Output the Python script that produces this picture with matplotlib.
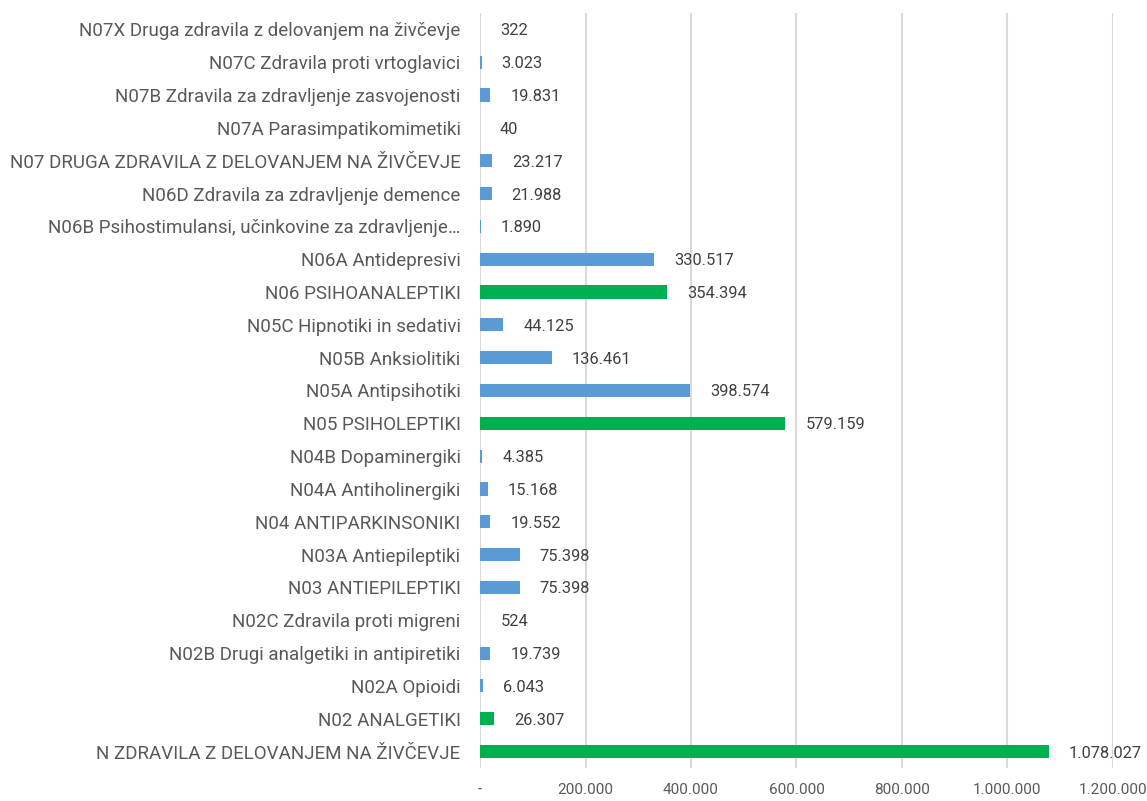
import matplotlib
matplotlib.use("Agg")
import matplotlib.pyplot as plt
from matplotlib.ticker import FuncFormatter

categories = [
    "N ZDRAVILA Z DELOVANJEM NA ŽIVČEVJE",
    "N02 ANALGETIKI",
    "N02A Opioidi",
    "N02B Drugi analgetiki in antipiretiki",
    "N02C Zdravila proti migreni",
    "N03 ANTIEPILEPTIKI",
    "N03A Antiepileptiki",
    "N04 ANTIPARKINSONIKI",
    "N04A Antiholinergiki",
    "N04B Dopaminergiki",
    "N05 PSIHOLEPTIKI",
    "N05A Antipsihotiki",
    "N05B Anksiolitiki",
    "N05C Hipnotiki in sedativi",
    "N06 PSIHOANALEPTIKI",
    "N06A Antidepresivi",
    "N06B Psihostimulansi, učinkovine za zdravljenje…",
    "N06D Zdravila za zdravljenje demence",
    "N07 DRUGA ZDRAVILA Z DELOVANJEM NA ŽIVČEVJE",
    "N07A Parasimpatikomimetiki",
    "N07B Zdravila za zdravljenje zasvojenosti",
    "N07C Zdravila proti vrtoglavici",
    "N07X Druga zdravila z delovanjem na živčevje",
]
values = [1078027, 26307, 6043, 19739, 524, 75398, 75398, 19552, 15168, 4385,
          579159, 398574, 136461, 44125, 354394, 330517, 1890, 21988, 23217,
          40, 19831, 3023, 322]
highlight = [True, True, False, False, False, False, False, False, False, False,
             True, False, False, False, True, False, False, False, False,
             False, False, False, False]
xticks = [0, 200000, 400000, 600000, 800000, 1000000, 1200000]

BLUE = "#5B9BD5"
GREEN = "#00B050"

plt.rcParams['font.family'] = ['Roboto', 'DejaVu Sans']

def fmt(v):
    if v == 0:
        return "-"
    return f"{int(v):,}".replace(",", ".")

fig = plt.figure(figsize=(11.47, 8.01), dpi=100)
ax = fig.add_axes([0.4185, 0.0412, 0.9703 - 0.4185, 0.9838 - 0.0412])

colors = [GREEN if h else BLUE for h in highlight]
ypos = list(range(len(categories)))
bars = ax.barh(ypos, values, height=0.4, color=colors, zorder=3)

ax.set_xlim(0, 1200000)
ax.set_ylim(-0.5, len(categories) - 0.5)
ax.set_xticks(xticks)
ax.xaxis.set_major_formatter(FuncFormatter(lambda v, p: fmt(v)))
ax.set_yticks(ypos)
ax.set_yticklabels(categories)
ax.tick_params(axis='y', length=0, pad=14, labelsize=13.5, labelcolor="#595959")
ax.tick_params(axis='x', length=0, pad=11, labelsize=11, labelcolor="#595959")
for t in ax.get_yticklabels():
    t.set_verticalalignment('center_baseline')
ax.grid(axis='x', color="#D9D9D9", linewidth=1.5, zorder=0)
for s in ax.spines.values():
    s.set_visible(False)

for b, v in zip(bars, values):
    ax.annotate(fmt(v), xy=(b.get_width(), b.get_y() + b.get_height() / 2),
                xytext=(14.4, 0), textcoords="offset points",
                ha="left", va="center_baseline", fontsize=11.8, color="#404040")

fig.savefig("out.png", dpi=100)
